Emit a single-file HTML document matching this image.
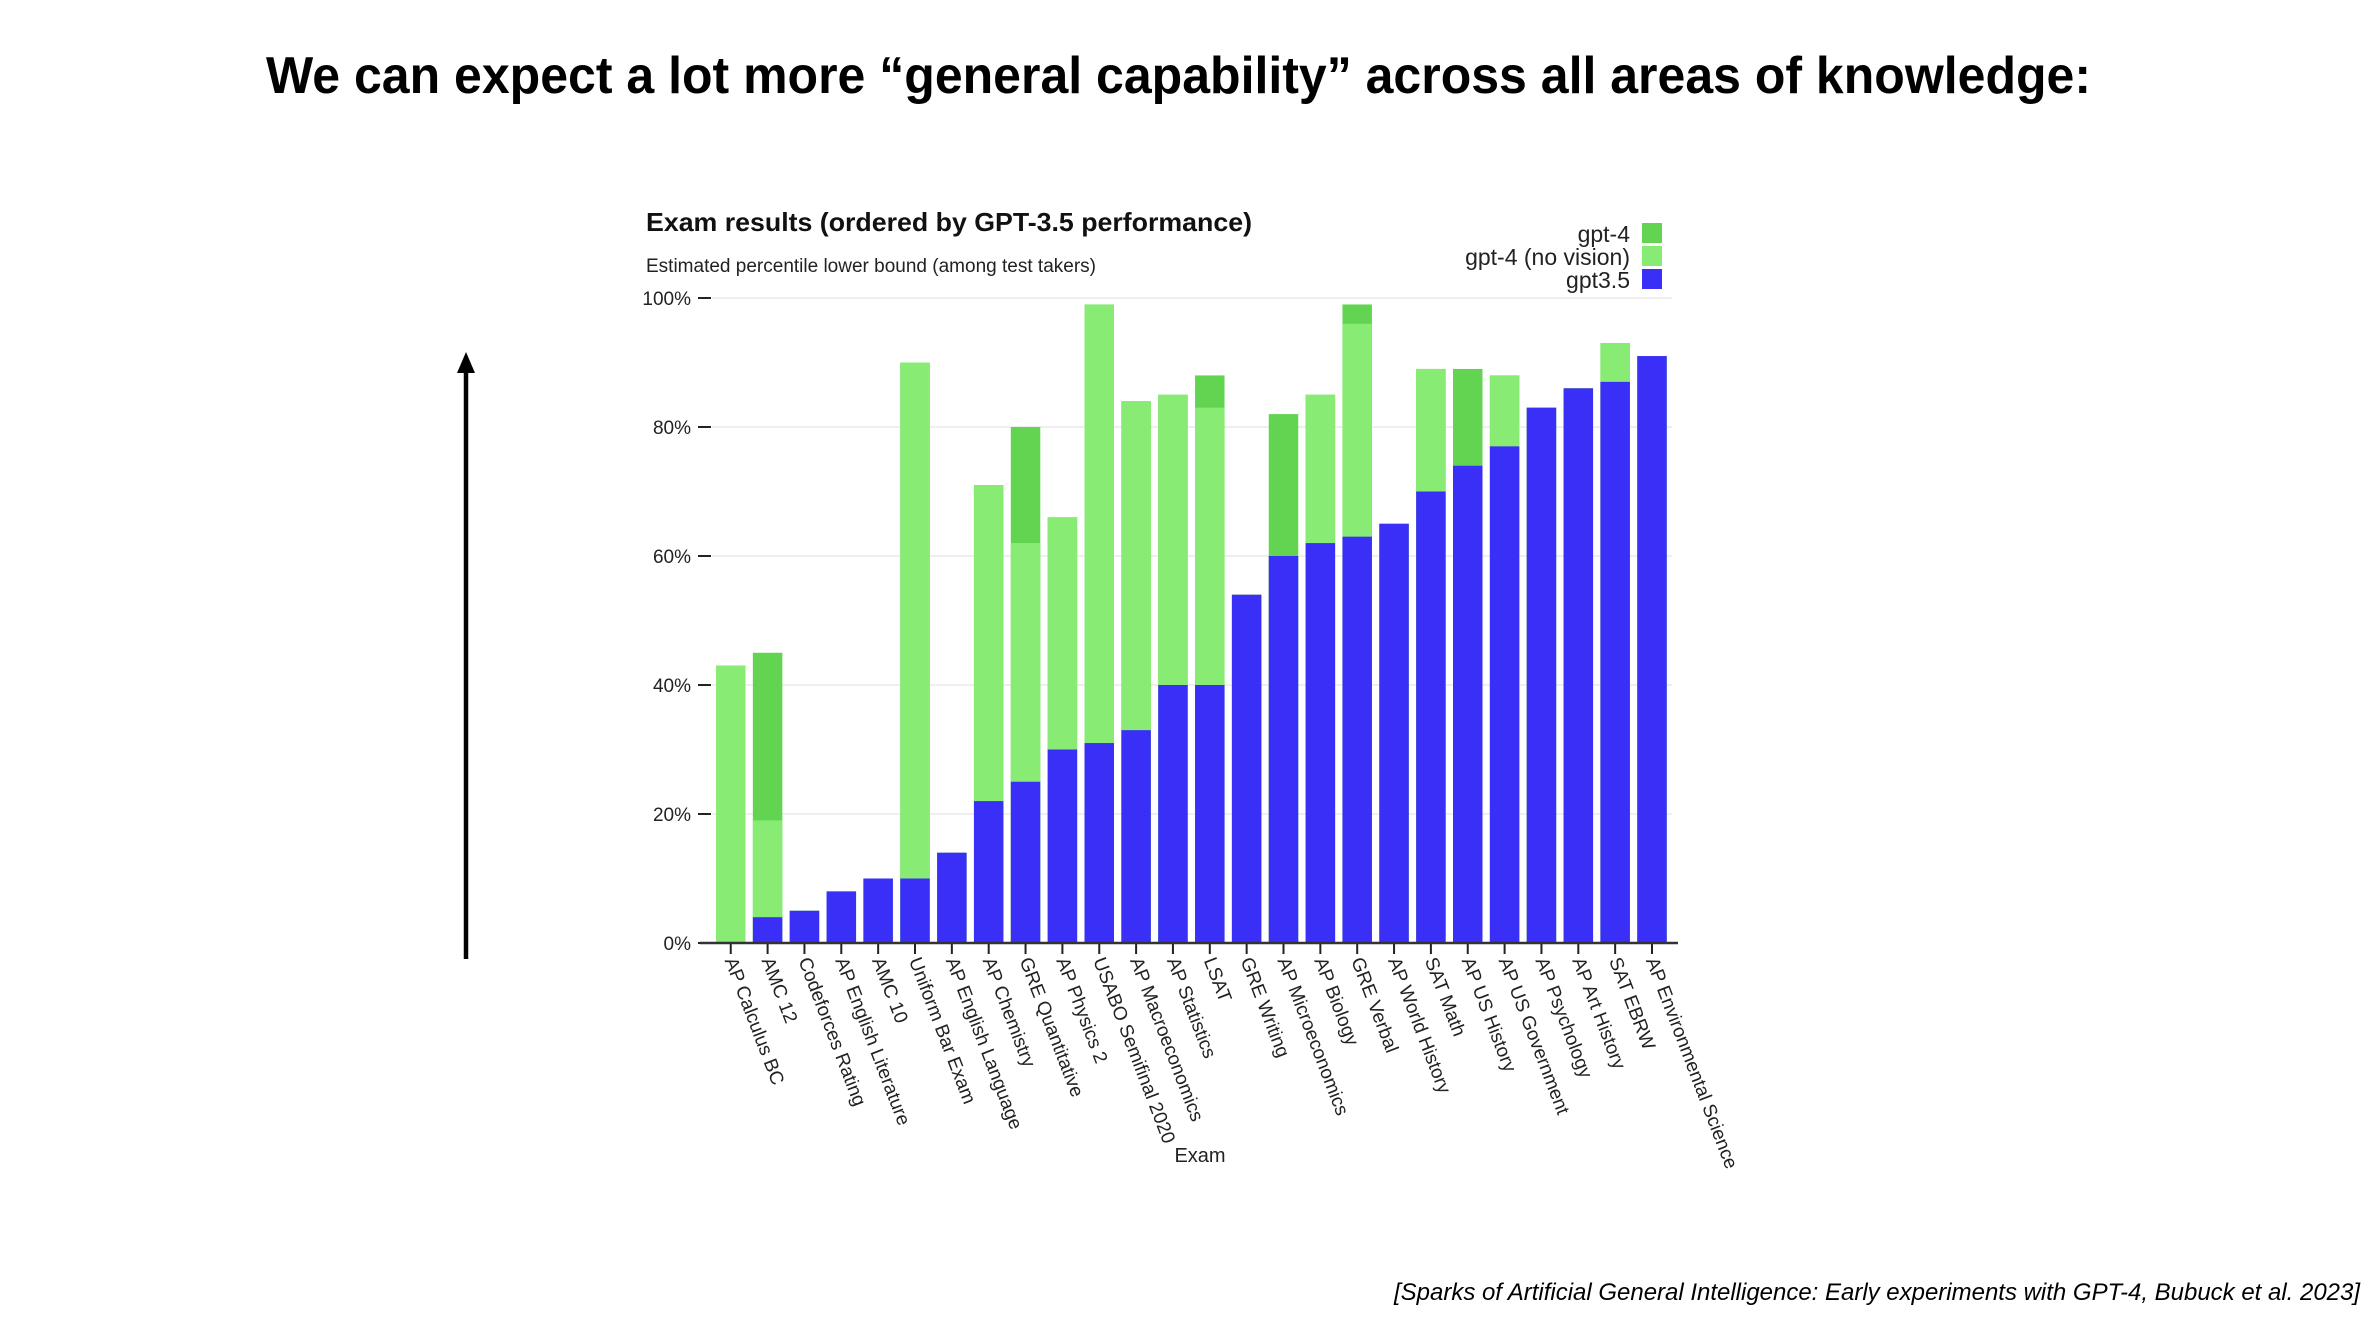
<!DOCTYPE html>
<html><head><meta charset="utf-8"><style>
html,body{margin:0;padding:0;background:#fff;}
svg{display:block;font-family:"Liberation Sans",Arial,sans-serif;}
</style></head><body>
<svg id="c" width="2370" height="1318" viewBox="0 0 2370 1318" xmlns="http://www.w3.org/2000/svg">
<text x="266" y="93" font-size="52" font-weight="bold" textLength="1825" lengthAdjust="spacingAndGlyphs" fill="#000">We can expect a lot more “general capability” across all areas of knowledge:</text>
<g>
<line x1="466" y1="370" x2="466" y2="959" stroke="#000" stroke-width="4.5"/>
<polygon points="466,352 457,373 475,373" fill="#000"/>
</g>
<text x="646" y="231" font-size="26" font-weight="bold" textLength="606" lengthAdjust="spacingAndGlyphs" fill="#111">Exam results (ordered by GPT-3.5 performance)</text>
<text x="646" y="272" font-size="19" textLength="450" lengthAdjust="spacingAndGlyphs" fill="#222">Estimated percentile lower bound (among test takers)</text>
<g id="grid"></g>
<g id="yaxis"></g>
<g id="bars"></g>
<g id="xaxis"></g>
<text x="1200" y="1162" font-size="20" text-anchor="middle" fill="#222">Exam</text>
<g>
<g><text x="1630" y="242" font-size="23" text-anchor="end" fill="#222">gpt-4</text><rect x="1642" y="223" width="20" height="20" fill="#63d452"/></g>
<g><text x="1630" y="265" font-size="23" text-anchor="end" fill="#222">gpt-4 (no vision)</text><rect x="1642" y="246" width="20" height="20" fill="#88ec74"/></g>
<g><text x="1630" y="288" font-size="23" text-anchor="end" fill="#222">gpt3.5</text><rect x="1642" y="269" width="20" height="20" fill="#3a2ff7"/></g>
</g>
<text x="1394" y="1300" font-size="24" font-style="italic" textLength="966" lengthAdjust="spacingAndGlyphs" fill="#000">[Sparks of Artificial General Intelligence: Early experiments with GPT-4, Bubuck et al. 2023]</text>
</svg>
<script>
const categories = ["AP Calculus BC","AMC 12","Codeforces Rating","AP English Literature","AMC 10","Uniform Bar Exam","AP English Language","AP Chemistry","GRE Quantitative","AP Physics 2","USABO Semifinal 2020","AP Macroeconomics","AP Statistics","LSAT","GRE Writing","AP Microeconomics","AP Biology","GRE Verbal","AP World History","SAT Math","AP US History","AP US Government","AP Psychology","AP Art History","SAT EBRW","AP Environmental Science"];
const gpt35 = [0,4,5,8,10,10,14,22,25,30,31,33,40,40,54,60,62,63,65,70,74,77,83,86,87,91];
const gpt4NoVision = [43,19,5,8,10,90,14,71,62,66,99,84,85,83,54,60,85,96,65,89,74,88,83,86,93,91];
const gpt4 = [43,45,5,8,10,90,14,71,80,66,99,84,85,88,54,82,85,99,65,89,89,88,83,86,93,91];
const yTicks = [0,20,40,60,80,100];
const yTickLabels = ["0%","20%","40%","60%","80%","100%"];

const NS="http://www.w3.org/2000/svg";
const X0=716, STEP=36.85, BW=29.5, Y0=943, Y100=298;
function y(v){return Y0-(Y0-Y100)*v/100;}
function x(i){return X0+i*STEP;}
function mk(tag,attrs,parent){const e=document.createElementNS(NS,tag);for(const k in attrs)e.setAttribute(k,attrs[k]);parent.appendChild(e);return e;}
const grid=document.getElementById('grid'), yax=document.getElementById('yaxis'), bars=document.getElementById('bars'), xax=document.getElementById('xaxis');
yTicks.forEach((t,i)=>{
  if(t>0){const g=mk('line',{x1:712,x2:1672,y1:y(t),y2:y(t),stroke:'#efefef','stroke-width':2},grid);
  
  }
  const tk=mk('line',{x1:698,x2:711,y1:y(t),y2:y(t),stroke:'#222','stroke-width':2},yax);
  
  
  const lb=mk('text',{x:691,y:y(t)+7,'font-size':19,'text-anchor':'end',fill:'#222'},yax);
  lb.textContent=yTickLabels[i];
  
  
});
categories.forEach((c,i)=>{
  const bx=x(i);
  const top4=Math.max(gpt4[i],gpt4NoVision[i]);
  if(top4>0){const r=mk('rect',{x:bx,y:y(top4),width:BW,height:y(0)-y(top4),fill:'#63d452'},bars);
    
    }
  if(gpt4NoVision[i]>0){const r=mk('rect',{x:bx,y:y(gpt4NoVision[i]),width:BW,height:y(0)-y(gpt4NoVision[i]),fill:'#88ec74'},bars);
    
    }
  if(gpt35[i]>0){const r=mk('rect',{x:bx,y:y(gpt35[i]),width:BW,height:y(0)-y(gpt35[i]),fill:'#3a2ff7'},bars);
    
    }
  const cx=bx+BW/2;
  const tk=mk('line',{x1:cx,x2:cx,y1:Y0,y2:Y0+11,stroke:'#222','stroke-width':2},xax);
  
  
  const lb=mk('text',{x:0,y:0,dy:'0.35em','font-size':19,fill:'#222',transform:`translate(${cx},${Y0+15}) rotate(69)`},xax);
  lb.textContent=c;
  
  
});
const ax=mk('line',{x1:700,x2:1678,y1:Y0,y2:Y0,stroke:'#333','stroke-width':2.5},xax);


</script>
</body></html>
